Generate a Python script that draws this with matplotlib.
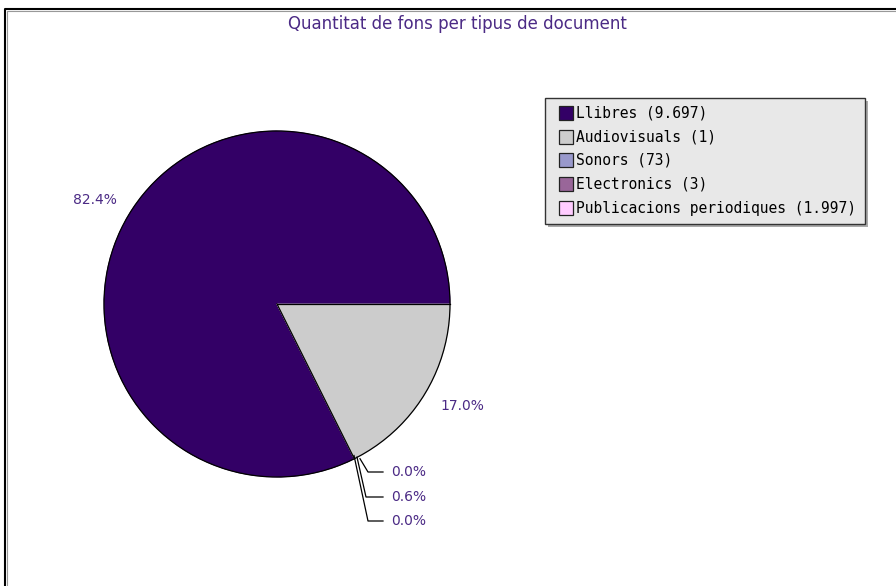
import numpy as np
import matplotlib.pyplot as plt
from matplotlib.patches import Rectangle

# data
categories = ['Llibres', 'Audiovisuals', 'Sonors', 'Electronics', 'Publicacions periodiques']
values = [9697, 1, 73, 3, 1997]
value_labels = ['9.697', '1', '73', '3', '1.997']
legend_colors = ['#330066', '#CCCCCC', '#9999CC', '#996699', '#FFCCFF']
slice_colors = ['#330066', '#CCCCCC', '#CCCCCC', '#CCCCCC', '#CCCCCC']
title = 'Quantitat de fons per tipus de document'

W, H = 896, 586
label_col = '#4B2A85'

fig = plt.figure(figsize=(W / 100, H / 100), dpi=100)
ax = fig.add_axes([0, 0, 1, 1])

cx, cy, r = 277, H - 304, 173
wedges, _ = ax.pie(values, colors=slice_colors, startangle=0, counterclock=True,
                   center=(cx, cy), radius=r, frame=True)
for w, c in zip(wedges, slice_colors):
    w.set_edgecolor(c)
    w.set_linewidth(0.6)
ax.set_xlim(0, W)
ax.set_ylim(0, H)
ax.axis('off')

# outlines: outer circle and the radii of the dark slice
ax.add_patch(plt.Circle((cx, cy), r, fill=False, edgecolor='black', lw=0.9))
for th in [wedges[0].theta1, wedges[0].theta2]:
    a = np.deg2rad(th)
    ax.plot([cx, cx + r * np.cos(a)], [cy, cy + r * np.sin(a)], color='black', lw=0.9)

# outer frame (top and left visible)
ax.plot([5, 5, W], [0, H - 9, H - 9], color='black', lw=1.5)
ax.plot([6.5, 6.5, W], [0, H - 10.5, H - 10.5], color='#999999', lw=0.8)

total = sum(values)
pcts = [100 * v / total for v in values]

# big slice labels
ax.text(95, H - 200, f'{pcts[0]:.1f}%', color=label_col, fontsize=10,
        ha='center', va='center')
ax.text(462, H - 406, f'{pcts[4]:.1f}%', color=label_col, fontsize=10,
        ha='center', va='center')

# small slice labels with leader lines
label_y = [472, 497, 521]
elbow_x = [368, 366, 368]
start_x = [360, 357, 354]
for i, k in enumerate([1, 2, 3]):
    w = wedges[k]
    ang = np.deg2rad((w.theta1 + w.theta2) / 2)
    y0 = cy + r * np.sin(ang)
    y1 = H - label_y[i]
    ax.plot([start_x[i], elbow_x[i], 383], [y0, y1, y1], color='black', lw=0.9)
    ax.text(391, y1, f'{pcts[k]:.1f}%', color=label_col, fontsize=10,
            ha='left', va='center')

# title
ax.text(457, H - 24, title, color=label_col, fontsize=12, ha='center', va='center')

# legend box with shadow
lx0, ly0, lw_, lh = 545, 98, 320, 126
ax.add_patch(Rectangle((lx0 + 3, H - ly0 - lh - 3), lw_, lh, facecolor='#AAAAAA',
                       edgecolor='none'))
ax.add_patch(Rectangle((lx0, H - ly0 - lh), lw_, lh, facecolor='#E8E8E8',
                       edgecolor='#333333', lw=1.0))
entry_y = [113, 137, 160, 184, 208]
for name, lab, col, ey in zip(categories, value_labels, legend_colors, entry_y):
    ax.add_patch(Rectangle((559, H - ey - 7), 14, 14, facecolor=col,
                           edgecolor='#222222', lw=0.9))
    ax.text(576, H - ey, f'{name} ({lab})', family='DejaVu Sans Mono',
            fontsize=10.5, color='black', ha='left', va='center')

fig.savefig('out.png', dpi=100)
